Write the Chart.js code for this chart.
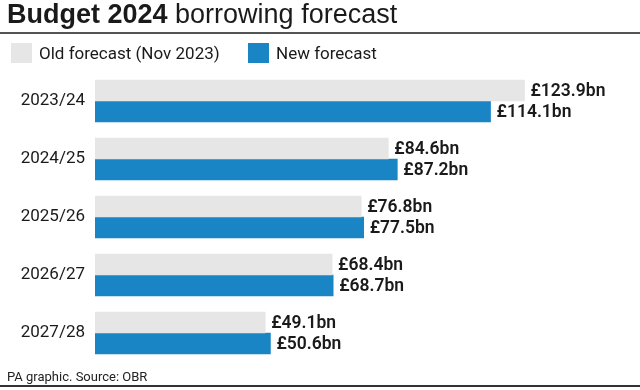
<!DOCTYPE html>
<html>
<head>
<meta charset="utf-8">
<script src="https://cdn.jsdelivr.net/npm/chart.js@4"></script>
<style>
    html, body { margin: 0; padding: 0; background: #fff; }
    #wrap { position: relative; width: 640px; height: 390px; font-family: Roboto, 'Liberation Sans', sans-serif; color: #1a1a1a; }
    #chart { position: absolute; left: 0; top: 0; }
    .title { position: absolute; left: 7px; top: -1px; font-family: 'Liberation Sans', Arial, sans-serif; font-size: 27px; white-space: nowrap; }
    .title b { font-weight: 700; }
    .rule-top { position: absolute; left: 0; top: 32px; width: 640px; height: 2px; background: #555; }
    .legend { position: absolute; top: 43px; font-size: 17px; display: flex; align-items: center; white-space: nowrap; }
    .legend span.box { display: inline-block; width: 21px; height: 20px; margin-right: 7px; }
    .footer { position: absolute; left: 7px; top: 369px; font-size: 13px; color: #222; }
    .rule-bottom { position: absolute; left: 0; top: 385px; width: 640px; height: 2px; background: #333; }
</style>
</head>
<body>
<div id="wrap">
    <canvas id="chart" width="640" height="390"></canvas>
    <div class="title"><b>Budget 2024</b> borrowing forecast</div>
    <div class="rule-top"></div>
    <div class="legend" style="left:11px"><span class="box" style="background:#e6e6e6"></span>Old forecast (Nov 2023)</div>
    <div class="legend" style="left:248px"><span class="box" style="background:#1a85c4"></span>New forecast</div>
    <div class="footer">PA graphic. Source: OBR</div>
    <div class="rule-bottom"></div>
</div>
<script>
const years = ['2023/24', '2024/25', '2025/26', '2026/27', '2027/28'];
const oldForecast = [123.9, 84.6, 76.8, 68.4, 49.1];
const newForecast = [114.1, 87.2, 77.5, 68.7, 50.6];

const GREY = '#e6e6e6';
const BLUE = '#1a85c4';

const valueLabels = {
    id: 'valueLabels',
    afterDatasetsDraw(chart) {
        const ctx = chart.ctx;
        ctx.save();
        ctx.font = '600 17.5px Roboto, "Liberation Sans", sans-serif';
        ctx.fillStyle = '#1a1a1a';
        ctx.textBaseline = 'middle';
        ctx.textAlign = 'left';
        chart.data.datasets.forEach((ds, i) => {
            chart.getDatasetMeta(i).data.forEach((bar, j) => {
                ctx.fillText('£' + ds.data[j].toFixed(1) + 'bn', bar.x + 6, bar.y + 1);
            });
        });
        ctx.restore();
    }
};

new Chart(document.getElementById('chart'), {
    type: 'bar',
    data: {
        labels: years,
        datasets: [
            { label: 'Old forecast (Nov 2023)', data: oldForecast, backgroundColor: GREY, barThickness: 21, categoryPercentage: 0.78 },
            { label: 'New forecast', data: newForecast, backgroundColor: BLUE, barThickness: 21, categoryPercentage: 0.78 },
        ]
    },
    options: {
        indexAxis: 'y',
        responsive: false,
        animation: false,
        layout: { padding: { left: 0, right: 25, top: 72, bottom: 28 } },
        plugins: { legend: { display: false }, tooltip: { enabled: false } },
        scales: {
            x: { min: 0, max: 150, display: false },
            y: {
                grid: { display: false, drawTicks: false },
                border: { display: false },
                ticks: { color: '#1a1a1a', padding: 10, font: { family: 'Roboto, "Liberation Sans", sans-serif', size: 17 } },
                afterFit(scale) { scale.width = 95; }
            }
        }
    },
    plugins: [valueLabels]
});
</script>
</body>
</html>
